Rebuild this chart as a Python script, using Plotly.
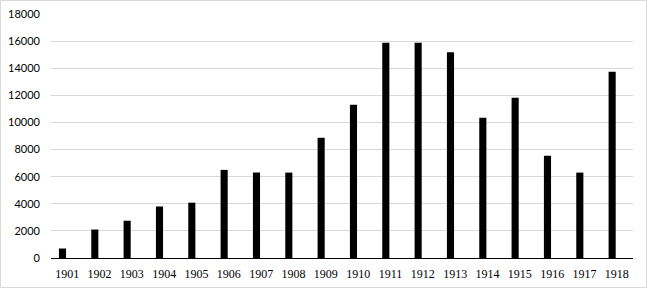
import plotly.graph_objects as go

years = ["1901", "1902", "1903", "1904", "1905", "1906", "1907", "1908", "1909",
         "1910", "1911", "1912", "1913", "1914", "1915", "1916", "1917", "1918"]
values = [700, 2100, 2750, 3800, 4080, 6500, 6300, 6300, 8870,
          11300, 15880, 15880, 15170, 10350, 11830, 7550, 6300, 13740]
y_ticks = [0, 2000, 4000, 6000, 8000, 10000, 12000, 14000, 16000, 18000]
y_labels = ["0", "2000", "4000", "6000", "8000", "10000", "12000", "14000", "16000", "18000"]

W, H = 647, 288
L, R, T, B = 51, 14, 14, 30
pw, ph = W - L - R, H - T - B

fig = go.Figure(go.Bar(
    x=years, y=values,
    marker=dict(color="#000000", line=dict(width=0)),
    width=0.22, offset=-0.255,
))

fig.update_layout(
    width=W, height=H,
    margin=dict(l=L, r=R, t=T, b=B, pad=0),
    plot_bgcolor="white", paper_bgcolor="white",
    showlegend=False,
    xaxis=dict(
        type="category", range=[-0.5, 17.5], automargin=False,
        showgrid=False, showline=True, linecolor="#000000", linewidth=1,
        ticks="", tickfont=dict(family="Liberation Serif", size=12, color="#000000"),
        ticklabelstandoff=5,
    ),
    yaxis=dict(
        range=[0, 18000], tickvals=y_ticks, ticktext=y_labels, automargin=False,
        showgrid=True, gridcolor="#d9d9d9", gridwidth=1,
        zeroline=False, showline=False, ticks="",
        tickfont=dict(family="Lato", size=11, color="#000000"),
        ticklabelstandoff=10,
    ),
    shapes=[dict(
        type="rect", xref="paper", yref="paper", layer="above",
        x0=(0.5 - L) / pw, x1=(W - 0.5 - L) / pw,
        y0=(H - B - (H - 0.5)) / ph, y1=(H - B - 0.5) / ph,
        line=dict(color="#d9d9d9", width=1), fillcolor="rgba(0,0,0,0)",
    )],
)

fig.write_html("out.html")
